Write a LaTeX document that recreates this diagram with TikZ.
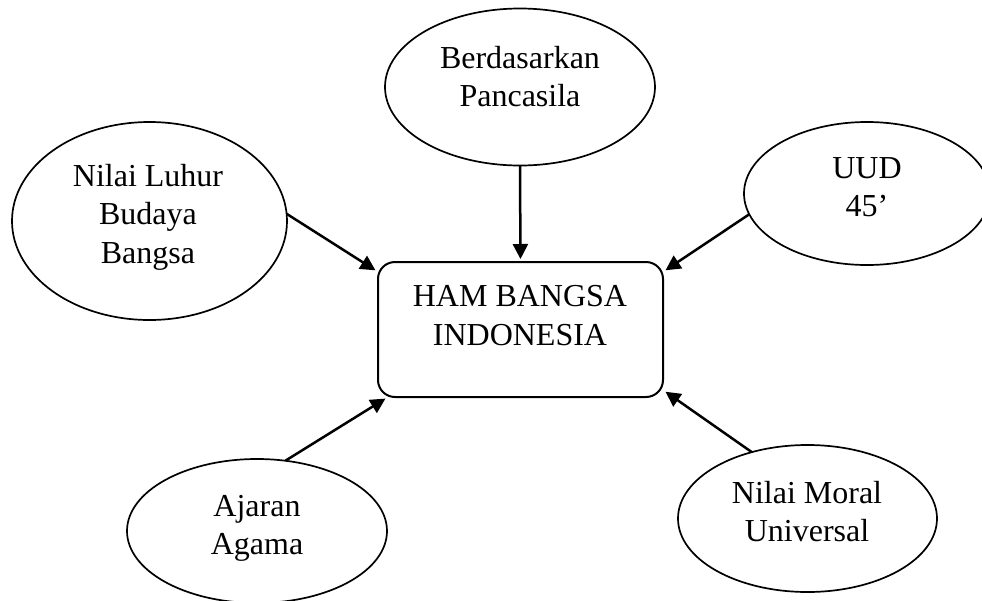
\documentclass[tikz,border=0pt]{standalone}
\usepackage{fontspec}
\setmainfont{Liberation Serif}
\usetikzlibrary{shapes.geometric,arrows.meta}
\begin{document}
\begin{tikzpicture}[x=0.5pt,y=-0.5pt,
  oval/.style={draw,ellipse,line width=0.85pt,inner sep=0pt,outer sep=0pt},
  hambox/.style={draw,rectangle,rounded corners=8.5pt,line width=1pt,inner sep=0pt,outer sep=0pt,
    minimum width=142.5pt,minimum height=67.5pt},
  txt/.style={align=center,inner sep=0pt,font=\fontsize{16}{19.3}\selectfont},
  arr/.style={-{Triangle[length=7.5pt,width=7.5pt]},line width=1.25pt,shorten >=1.5pt}]
\useasboundingbox (0,0) rectangle (982,601);
% shapes
\node[oval,minimum width=135pt,minimum height=78.5pt] (ber) at (520,87) {};
\node[oval,minimum width=137.5pt,minimum height=99pt] (nlb) at (149.5,221) {};
\node[oval,minimum width=123pt,minimum height=71.5pt] (uud) at (867,193.5) {};
\node[oval,minimum width=130pt,minimum height=72pt] (aja) at (257,531) {};
\node[oval,minimum width=129.5pt,minimum height=73.5pt] (nmu) at (807.5,518.5) {};
\node[hambox] (ham) at (520.5,329.5) {};
% texts
\node[txt] (tber) at (520,76.5) {Berdasarkan\\Pancasila};
\node[txt] (tnlb) at (148,217) {Nilai Luhur\\Budaya\\Bangsa};
\node[txt] (tuud) at (867,187) {UUD\\45’};
\node[txt] (tham) at (520,315.5) {HAM BANGSA\\INDONESIA};
\node[txt] (taja) at (257,528.5) {Ajaran\\Agama};
\node[txt] (tnmu) at (807,511.5) {Nilai Moral\\Universal};
% connectors
\draw[arr] (ber.south) -- (ham.north);
\draw[arr] (nlb.3) -- (ham.158.4);
\draw[arr] (uud.190.9) -- (ham.22.1);
\draw[arr] (aja.68.5) -- (ham.207);
\draw[arr] (nmu.130.6) -- (ham.337.9);
\end{tikzpicture}
\end{document}
